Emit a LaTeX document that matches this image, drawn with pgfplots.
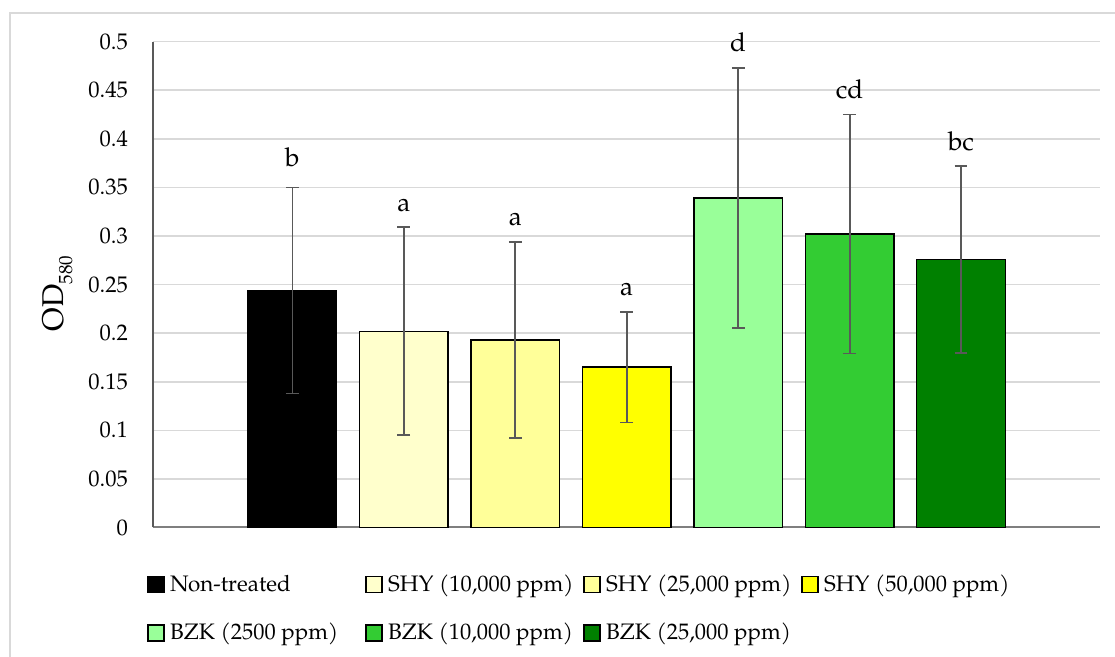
\documentclass[border=0pt]{standalone}
\usepackage{pgfplots}
\pgfplotsset{compat=1.18}
\usepackage{fontspec}
\setmainfont{TeX Gyre Pagella}
\definecolor{errc}{HTML}{595959}
\definecolor{gridc}{HTML}{D9D9D9}
\definecolor{axisc}{HTML}{7F7F7F}
\definecolor{c1}{HTML}{000000}
\definecolor{c2}{HTML}{FFFFCC}
\definecolor{c3}{HTML}{FFFF99}
\definecolor{c4}{HTML}{FFFF00}
\definecolor{c5}{HTML}{99FF99}
\definecolor{c6}{HTML}{33CC33}
\definecolor{c7}{HTML}{008000}
\newcommand\lgd[1]{\makebox[95pt][l]{#1}}
\begin{document}
\begin{tikzpicture}
\useasboundingbox (-76.5pt,-64.75pt) rectangle (481pt,263.75pt);
\draw[color=gridc, line width=0.8pt] (-71.5pt,-90pt) -- (-71.5pt,257.25pt) -- (500pt,257.25pt);
\begin{axis}[
  scale only axis, width=473.5pt, height=242.9pt,
  at={(0,0)}, anchor=south west,
  clip=false,
  xmin=-0.251, xmax=8.247, ymin=0, ymax=0.5,
  axis x line*=bottom, axis y line*=left,
  x axis line style={color=axisc, line width=1pt, -},
  y axis line style={color=errc, line width=0.9pt, -},
  xtick=\empty,
  ytick={0,0.05,0.1,0.15,0.2,0.25,0.3,0.35,0.4,0.45,0.5},
  yticklabels={0,0.05,0.1,0.15,0.2,0.25,0.3,0.35,0.4,0.45,0.5},
  major tick length=0pt,
  yticklabel style={font=\fontsize{11.3}{13}\selectfont, xshift=-9pt},
  ymajorgrids, grid style={color=gridc, line width=0.8pt},
  ylabel={OD\raisebox{-0.28em}{\fontsize{9.5}{11}\selectfont 580}},
  every axis y label/.style={at={(axis description cs:-0.1008,0.4817)}, rotate=90, anchor=center, font=\fontsize{15}{17}\selectfont},
  ybar, bar width=0.794,
  every axis plot post/.append style={
    bar shift=0pt,
    draw=black, line width=0.7pt,
    legend image code/.code={\draw[##1, draw=black, line width=0.8pt] (0pt,-4pt) rectangle (8pt,4pt);},
    error bars/y dir=both, error bars/y explicit,
    error bars/error bar style={color=errc, line width=0.9pt},
    error bars/error mark options={rotate=90, color=errc, mark size=3.2pt, line width=0.9pt},
  },
  legend columns=4,
  legend cell align=left,
  legend style={draw=none, fill=none, at={(rel axis cs:-0.0063,-0.088)}, anchor=north west,
    font=\fontsize{11.2}{13}\selectfont, row sep=10.5pt, inner sep=0pt,
    nodes={inner xsep=2.6pt},
    /tikz/every even column/.append style={column sep=0pt}},
]
\addplot[fill=c1] coordinates {(1,0.244) +- (0,0.106)};
\addlegendentry{\lgd{Non-treated}}
\addplot[fill=c2] coordinates {(2,0.202) +- (0,0.107)};
\addlegendentry{\lgd{SHY (10,000 ppm)}}
\addplot[fill=c3] coordinates {(3,0.193) +- (0,0.101)};
\addlegendentry{\lgd{SHY (25,000 ppm)}}
\addplot[fill=c4] coordinates {(4,0.165) +- (0,0.057)};
\addlegendentry{\lgd{SHY (50,000 ppm)}}
\addplot[fill=c5] coordinates {(5,0.339) +- (0,0.134)};
\addlegendentry{\lgd{BZK (2500 ppm)}}
\addplot[fill=c6] coordinates {(6,0.302) +- (0,0.123)};
\addlegendentry{\lgd{BZK (10,000 ppm)}}
\addplot[fill=c7] coordinates {(7,0.276) +- (0,0.096)};
\addlegendentry{\lgd{BZK (25,000 ppm)}}
\begin{scope}[every node/.style={anchor=base, font=\fontsize{13}{15}\selectfont}]
\node at (axis cs:1,0.350) [yshift=10.5pt] {b};
\node at (axis cs:2,0.309) [yshift=8pt] {a};
\node at (axis cs:3,0.294) [yshift=8pt] {a};
\node at (axis cs:4,0.222) [yshift=8pt] {a};
\node at (axis cs:5,0.473) [yshift=8pt] {d};
\node at (axis cs:6,0.425) [yshift=8pt] {cd};
\node at (axis cs:7,0.372) [yshift=8pt] {bc};
\end{scope}
\end{axis}
\end{tikzpicture}
\end{document}
